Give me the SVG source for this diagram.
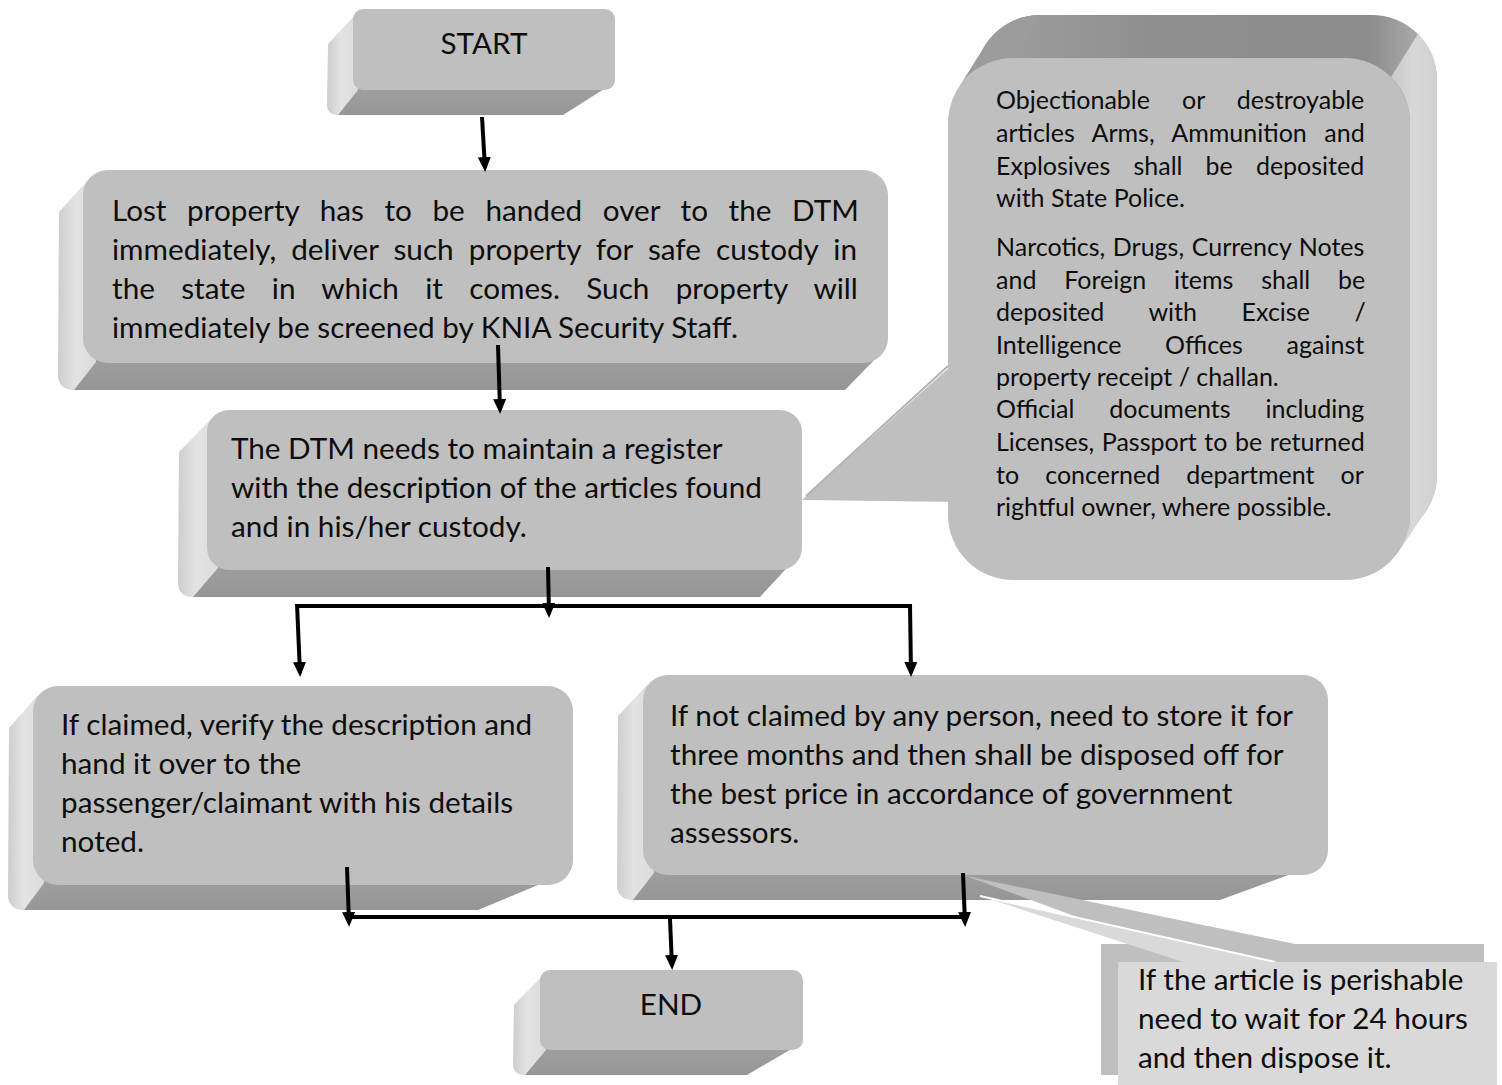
<svg xmlns="http://www.w3.org/2000/svg" width="1502" height="1085" viewBox="0 0 1502 1085">
<style>
.front{fill:#bfbfbf}
.side{fill:url(#sideGrad)}
.bottom{fill:url(#bottomGrad)}
.t{font-family:Lato,"Open Sans",sans-serif;font-size:29.7px;fill:#0d0d0d}
.c{font-family:Lato,"Open Sans",sans-serif;font-size:25px;fill:#0d0d0d}
.m{text-anchor:middle}
.conn{stroke:#000;stroke-width:4;fill:none}
</style>
<defs>
<linearGradient id="sideGrad" x1="0" y1="0" x2="1" y2="0">
<stop offset="0" stop-color="#cdcdcd"/>
<stop offset="0.45" stop-color="#e3e3e3"/>
<stop offset="1" stop-color="#dcdcdc"/>
</linearGradient>
<linearGradient id="bottomGrad" x1="0" y1="0" x2="0" y2="1">
<stop offset="0" stop-color="#a2a2a2"/>
<stop offset="1" stop-color="#969696"/>
</linearGradient>
<linearGradient id="topGrad" x1="0" y1="0" x2="1" y2="0">
<stop offset="0" stop-color="#a0a0a0"/>
<stop offset="0.4" stop-color="#8e8e8e"/>
<stop offset="0.85" stop-color="#8c8c8c"/>
<stop offset="1" stop-color="#b4b4b4"/>
</linearGradient>
<linearGradient id="rightGrad" x1="0" y1="0" x2="1" y2="0">
<stop offset="0" stop-color="#c8c8c8"/>
<stop offset="0.5" stop-color="#d8d8d8"/>
<stop offset="1" stop-color="#d0d0d0"/>
</linearGradient>
<marker id="ah" markerUnits="userSpaceOnUse" markerWidth="16" markerHeight="14" refX="11" refY="6.5" orient="auto" viewBox="0 0 16 14">
<path d="M0,0 L15,6.5 L0,13 Z" fill="#000"/>
</marker>
</defs>

<!-- Callout: objectionable articles -->
<g id="note-articles">
<rect x="975" y="15" width="462" height="525" rx="65" fill="url(#topGrad)"/>
<path d="M959,87 L986,44 A65,65 0 0 1 1040,15 L1013,58 A65,65 0 0 0 959,87 Z" fill="#9c9c9c"/>
<path d="M1391,77 A65,65 0 0 1 1410,123 L1410,515 A65,65 0 0 1 1399,551 L1426,511 A65,65 0 0 0 1437,475 L1437,80 A65,65 0 0 0 1418,34 Z" fill="url(#rightGrad)"/>
<polygon points="962,356 802,500 962,502" class="front"/>
<line x1="806" y1="496" x2="948" y2="366" stroke="#b2b2b2" stroke-width="2"/>
<rect x="948" y="58" width="462" height="522" rx="65" class="front"/>
<text class="c" x="996" y="109" style="word-spacing:25.6px">Objectionable or destroyable</text>
<text class="c" x="996" y="142" style="word-spacing:11.2px">articles Arms, Ammunition and</text>
<text class="c" x="996" y="175" style="word-spacing:16.7px">Explosives shall be deposited</text>
<text class="c" x="996" y="207">with State Police.</text>
<text class="c" x="996" y="256" style="word-spacing:1.2px">Narcotics, Drugs, Currency Notes</text>
<text class="c" x="996" y="289" style="word-spacing:21.4px">and Foreign items shall be</text>
<text class="c" x="996" y="321" style="word-spacing:38.2px">deposited with Excise /</text>
<text class="c" x="996" y="354" style="word-spacing:37.3px">Intelligence Offices against</text>
<text class="c" x="996" y="386">property receipt / challan.</text>
<text class="c" x="996" y="418" style="word-spacing:28.5px">Official documents including</text>
<text class="c" x="996" y="451" style="word-spacing:1.2px">Licenses, Passport to be returned</text>
<text class="c" x="996" y="484" style="word-spacing:19.7px">to concerned department or</text>
<text class="c" x="996" y="516">rightful owner, where possible.</text>
</g>

<g id="start">
<polygon points="357,80 612,84 563,115 337,115 327,106" class="bottom"/>
<path d="M356,14 L328,44 L327,104 Q327,115 338,115 L358,90 Z" class="side"/>
<rect x="353" y="9" width="262" height="81" rx="10" class="front"/>
<text class="t m" x="484" y="54">START</text>
</g>

<g id="handover">
<polygon points="90,340 884,350 845,390 72,390 58,378" class="bottom"/>
<path d="M88,180 L59,212 L58,374 Q58,390 74,390 L96,362 Z" class="side"/>
<rect x="83" y="170" width="805" height="193" rx="25" class="front"/>
<text class="t" x="112" y="221" style="word-spacing:13px">Lost property has to be handed over to the DTM</text>
<text class="t" x="112" y="260" style="word-spacing:7.5px">immediately, deliver such property for safe custody in</text>
<text class="t" x="112" y="299" style="word-spacing:18.7px">the state in which it comes. Such property will</text>
<text class="t" x="112" y="338">immediately be screened by KNIA Security Staff.</text>
</g>

<g id="register">
<polygon points="214,550 798,556 760,597 192,597 178,585" class="bottom"/>
<path d="M212,418 L179,452 L178,582 Q178,597 193,597 L218,568 Z" class="side"/>
<rect x="207" y="410" width="595" height="160" rx="22" class="front"/>
<text class="t" x="231" y="459">The DTM needs to maintain a register</text>
<text class="t" x="231" y="498">with the description of the articles found</text>
<text class="t" x="231" y="537">and in his/her custody.</text>
</g>

<g id="claimed">
<polygon points="40,865 569,872 478,910 22,910 8,898" class="bottom"/>
<path d="M38,695 L9,728 L8,894 Q8,910 24,910 L44,883 Z" class="side"/>
<rect x="33" y="686" width="540" height="199" rx="25" class="front"/>
<text class="t" x="61" y="735">If claimed, verify the description and</text>
<text class="t" x="61" y="774">hand it over to the</text>
<text class="t" x="61" y="813">passenger/claimant with his details</text>
<text class="t" x="61" y="852">noted.</text>
</g>

<g id="not-claimed">
<polygon points="650,855 1324,862 1220,900 632,900 617,888" class="bottom"/>
<path d="M648,684 L618,716 L617,884 Q617,900 633,900 L654,873 Z" class="side"/>
<rect x="643" y="675" width="685" height="200" rx="25" class="front"/>
<text class="t" x="670" y="726">If not claimed by any person, need to store it for</text>
<text class="t" x="670" y="765">three months and then shall be disposed off for</text>
<text class="t" x="670" y="804">the best price in accordance of government</text>
<text class="t" x="670" y="843">assessors.</text>
</g>

<g id="end">
<polygon points="544,1040 800,1044 747,1075 524,1075 513,1066" class="bottom"/>
<path d="M543,975 L514,1005 L513,1064 Q513,1075 525,1075 L546,1050 Z" class="side"/>
<rect x="540" y="970" width="263" height="80" rx="10" class="front"/>
<text class="t m" x="671" y="1015">END</text>
</g>

<g id="connectors">
<line class="conn" x1="482" y1="117" x2="485" y2="168" marker-end="url(#ah)"/>
<line class="conn" x1="498" y1="345" x2="500" y2="410" marker-end="url(#ah)"/>
<line class="conn" x1="548" y1="567" x2="549" y2="614" marker-end="url(#ah)"/>
<polyline class="conn" points="297,606 911,606"/>
<line class="conn" x1="297" y1="604" x2="300" y2="673" marker-end="url(#ah)"/>
<line class="conn" x1="910" y1="604" x2="911" y2="673" marker-end="url(#ah)"/>
<line class="conn" x1="347" y1="867" x2="349" y2="923" marker-end="url(#ah)"/>
<line class="conn" x1="963" y1="873" x2="965" y2="923" marker-end="url(#ah)"/>
<polyline class="conn" points="349,917 965,917"/>
<line class="conn" x1="670" y1="919" x2="672" y2="966" marker-end="url(#ah)"/>
</g>

<g id="note-perishable">
<polygon points="966,876 1295,944 1150,944" fill="#bfbfbf"/>
<rect x="1101" y="944" width="383" height="131" fill="#bfbfbf"/>
<polygon points="980,896 1183,962 1275,962" fill="#d9d9d9"/>
<line x1="980" y1="896" x2="1275" y2="962" stroke="#ffffff" stroke-width="2"/>
<rect x="1118" y="962" width="379" height="130" fill="#d9d9d9"/>
<text class="t" x="1138" y="990">If the article is perishable</text>
<text class="t" x="1138" y="1029">need to wait for 24 hours</text>
<text class="t" x="1138" y="1068">and then dispose it.</text>
</g>
</svg>
